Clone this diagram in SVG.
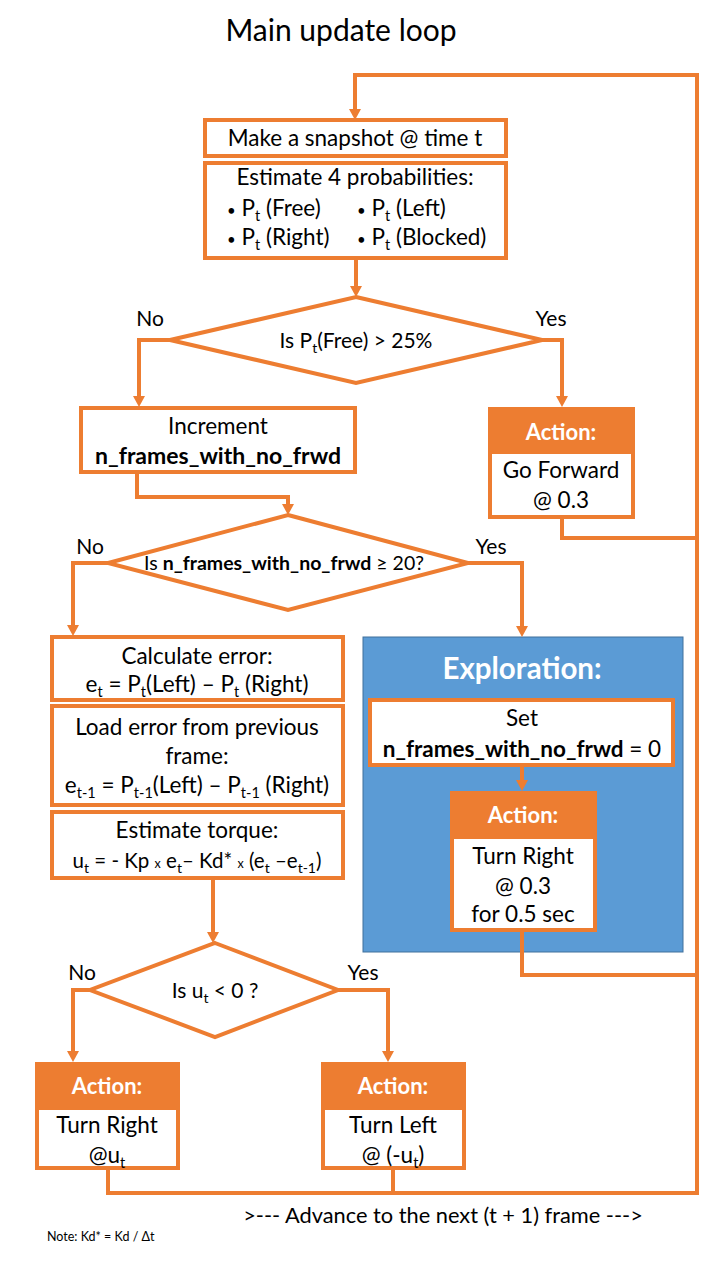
<svg xmlns="http://www.w3.org/2000/svg" width="720" height="1280" viewBox="0 0 720 1280">
<style>
text{font-family:Lato,"Liberation Sans",Arial,sans-serif;fill:#000;}
.c{text-anchor:middle;}
.t20{font-size:22.5px;}
.t19{font-size:21px;}
.b{font-weight:bold;}
.w{fill:#fff;}
.box{fill:#fff;stroke:#ED7D31;stroke-width:4;}
.hdr{fill:#ED7D31;}
.dia{fill:#fff;stroke:#ED7D31;stroke-width:4;stroke-linejoin:miter;}
.con{fill:none;stroke:#ED7D31;stroke-width:4;}
.arr{marker-end:url(#ah);}
.s{font-size:14.5px;}
</style>
<defs>
<marker id="ah" markerUnits="userSpaceOnUse" markerWidth="12" markerHeight="12" refX="3" refY="6" orient="auto">
<path d="M0,0 L11,6 L0,12 z" fill="#ED7D31"/>
</marker>
</defs>
<rect width="720" height="1280" fill="#fff"/>
<text x="341" y="41" class="c" font-size="30">Main update loop</text>

<g id="exploration">
<rect x="363" y="637" width="320" height="315" fill="#5B9BD5" stroke="#41719C" stroke-width="1"/>
<text x="522" y="679" class="c b w" font-size="29.5">Exploration:</text>
</g>

<g id="connectors">
<path class="con arr" d="M108,1168 V1193 H697 V75 H355 V112"/>
<path class="con" d="M393,1168 V1193"/>
<path class="con" d="M562,517 V538 H697"/>
<path class="con" d="M522,930 V975 H697"/>
<path class="con arr" d="M356,258 V289"/>
<path class="con arr" d="M170,340 H139 V399"/>
<path class="con arr" d="M542,340 H562 V399"/>
<path class="con arr" d="M137,472 V497 H288 V507"/>
<path class="con arr" d="M108,563 H73 V628"/>
<path class="con arr" d="M468,563 H522 V629"/>
<path class="con arr" d="M522,765 V783"/>
<path class="con arr" d="M213,878 V935"/>
<path class="con arr" d="M90,990 H73 V1054"/>
<path class="con arr" d="M338,990 H388 V1054"/>
</g>

<g id="snapshot">
<rect class="box" x="205" y="120" width="301" height="36"/>
<text x="355" y="146" class="c t20">Make a snapshot @ time t</text>
</g>

<g id="probabilities">
<rect class="box" x="205" y="163" width="301" height="95"/>
<text x="355" y="185" class="c t20">Estimate 4 probabilities:</text>
<text x="227" y="216" class="t20"><tspan font-size="15">•</tspan> P<tspan class="s" dy="5">t</tspan><tspan dy="-5"> (Free)</tspan></text>
<text x="357" y="216" class="t20"><tspan font-size="15">•</tspan> P<tspan class="s" dy="5">t</tspan><tspan dy="-5"> (Left)</tspan></text>
<text x="227" y="245" class="t20"><tspan font-size="15">•</tspan> P<tspan class="s" dy="5">t</tspan><tspan dy="-5"> (Right)</tspan></text>
<text x="357" y="245" class="t20"><tspan font-size="15">•</tspan> P<tspan class="s" dy="5">t</tspan><tspan dy="-5"> (Blocked)</tspan></text>
</g>

<g id="decision-free">
<polygon class="dia" points="356,297 542,340 356,383 170,340"/>
<text x="356" y="348" class="c t19">Is P<tspan font-size="14" dy="5">t</tspan><tspan dy="-5">(Free) &gt; 25%</tspan></text>
<text x="150" y="326" class="c t19">No</text>
<text x="551" y="326" class="c t19">Yes</text>
</g>

<g id="increment">
<rect class="box" x="81" y="408" width="274" height="64"/>
<text x="218" y="434" class="c t20">Increment</text>
<text x="218" y="464" class="c b" font-size="23">n_frames_with_no_frwd</text>
</g>

<g id="go-forward">
<rect class="box" x="490" y="452" width="143" height="65"/>
<rect class="hdr" x="488" y="407" width="147" height="47"/>
<text x="561" y="440" class="c b w" font-size="22">Action:</text>
<text x="561" y="478" class="c t20">Go Forward</text>
<text x="561" y="508" class="c t20">@ 0.3</text>
</g>

<g id="decision-frames">
<polygon class="dia" points="288,515 468,563 288,610 108,563"/>
<text x="284" y="570" class="c" font-size="19.5">Is <tspan font-weight="bold">n_frames_with_no_frwd</tspan>  ≥ 20?</text>
<text x="90" y="554" class="c t19">No</text>
<text x="491" y="554" class="c t19">Yes</text>
</g>

<g id="calc-error">
<rect class="box" x="52" y="637" width="291" height="63"/>
<text x="197" y="664" class="c t20">Calculate error:</text>
<text x="197" y="692" class="c t20">e<tspan class="s" dy="5">t</tspan><tspan dy="-5"> = P</tspan><tspan class="s" dy="5">t</tspan><tspan dy="-5">(Left) – P</tspan><tspan class="s" dy="5">t</tspan><tspan dy="-5"> (Right)</tspan></text>
</g>

<g id="load-error">
<rect class="box" x="52" y="706" width="291" height="99"/>
<text x="197" y="735" class="c t20">Load error from previous</text>
<text x="197" y="764" class="c t20">frame:</text>
<text x="197" y="793" class="c t20">e<tspan class="s" dy="5">t-1</tspan><tspan dy="-5"> = P</tspan><tspan class="s" dy="5">t-1</tspan><tspan dy="-5">(Left) – P</tspan><tspan class="s" dy="5">t-1</tspan><tspan dy="-5"> (Right)</tspan></text>
</g>

<g id="torque">
<rect class="box" x="52" y="812" width="291" height="66"/>
<text x="197" y="838" class="c t20">Estimate torque:</text>
<text x="197" y="868" class="c" font-size="20.5">u<tspan font-size="14" dy="5">t</tspan><tspan dy="-5"> = - Kp </tspan><tspan font-size="12.5">x</tspan><tspan> e</tspan><tspan font-size="14" dy="5">t</tspan><tspan dy="-5">– Kd* </tspan><tspan font-size="12.5">x</tspan><tspan> (e</tspan><tspan font-size="14" dy="5">t</tspan><tspan dy="-5"> –e</tspan><tspan font-size="14" dy="5">t-1</tspan><tspan dy="-5">)</tspan></text>
</g>

<g id="set-zero">
<rect class="box" x="370" y="700" width="303" height="65"/>
<text x="522" y="726" class="c t20">Set</text>
<text x="522" y="757" class="c t20"><tspan font-weight="bold">n_frames_with_no_frwd</tspan> = 0</text>
</g>

<g id="turn-right-explore">
<rect class="box" x="452" y="837" width="143" height="93"/>
<rect class="hdr" x="450" y="791" width="147" height="48"/>
<text x="523" y="823" class="c b w" font-size="22">Action:</text>
<text x="523" y="864" class="c t20">Turn Right</text>
<text x="523" y="894" class="c t20">@ 0.3</text>
<text x="523" y="922" class="c t20">for 0.5 sec</text>
</g>

<g id="decision-u">
<polygon class="dia" points="215,943 338,990 215,1037 90,990"/>
<text x="215" y="998" class="c t19">Is u<tspan font-size="14" dy="5">t</tspan><tspan dy="-5"> &lt; 0 ?</tspan></text>
<text x="82" y="980" class="c t19">No</text>
<text x="363" y="980" class="c t19">Yes</text>
</g>

<g id="turn-right">
<rect class="box" x="37" y="1108" width="141" height="60"/>
<rect class="hdr" x="35" y="1062" width="145" height="48"/>
<text x="107" y="1094" class="c b w" font-size="22">Action:</text>
<text x="107" y="1133" class="c t20">Turn Right</text>
<text x="107" y="1163" class="c t20">@u<tspan class="s" dy="5">t</tspan></text>
</g>

<g id="turn-left">
<rect class="box" x="323" y="1108" width="141" height="60"/>
<rect class="hdr" x="321" y="1062" width="145" height="48"/>
<text x="393" y="1094" class="c b w" font-size="22">Action:</text>
<text x="393" y="1133" class="c t20">Turn Left</text>
<text x="393" y="1163" class="c t20">@ (-u<tspan class="s" dy="5">t</tspan><tspan dy="-5">)</tspan></text>
</g>

<text x="443" y="1223" class="c" font-size="21.8">&gt;--- Advance to the next (t + 1) frame ---&gt;</text>
<text x="47" y="1241" font-size="12.5">Note: Kd* = Kd / Δt</text>
</svg>
